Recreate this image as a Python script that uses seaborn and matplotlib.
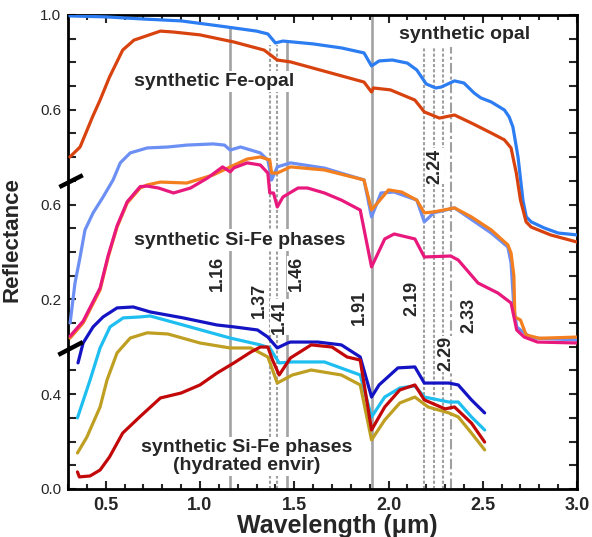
import matplotlib
matplotlib.use("Agg")
import matplotlib.pyplot as plt
from matplotlib.ticker import MultipleLocator
import numpy as np
import seaborn as sns

# ---- top panel: synthetic opal / synthetic Fe-opal ----
wl_opal = [0.31, 0.5, 0.7, 0.9, 1.1, 1.3, 1.36, 1.40, 1.44, 1.6, 1.75, 1.87, 1.91, 1.95, 2.02,
           2.10, 2.15, 2.2, 2.25, 2.28, 2.35, 2.40, 2.454, 2.49, 2.545, 2.615, 2.64, 2.66,
           2.687, 2.713, 2.731, 2.757, 2.827, 2.9, 3.0]
r_opal = [0.996, 0.992, 0.983, 0.975, 0.954, 0.932, 0.920, 0.882, 0.890, 0.878, 0.861, 0.840, 0.785,
          0.806, 0.810, 0.797, 0.768, 0.709, 0.692, 0.696, 0.722, 0.713, 0.671, 0.650, 0.633,
          0.599, 0.570, 0.527, 0.401, 0.219, 0.148, 0.127, 0.101, 0.080, 0.072]

wl_feopal = [0.31, 0.364, 0.43, 0.47, 0.52, 0.59, 0.65, 0.79, 0.86, 1.0, 1.18, 1.34, 1.41, 1.48,
             1.87, 1.91, 1.92, 2.01, 2.14, 2.19, 2.27, 2.35, 2.44, 2.545, 2.615, 2.65, 2.678,
             2.70, 2.73, 2.757, 2.86, 3.0]
r_feopal = [0.401, 0.443, 0.570, 0.641, 0.738, 0.852, 0.894, 0.932, 0.928, 0.916, 0.886, 0.852,
            0.810, 0.802, 0.717, 0.675, 0.692, 0.684, 0.641, 0.591, 0.565, 0.578, 0.544, 0.502,
            0.473, 0.439, 0.333, 0.219, 0.127, 0.105, 0.072, 0.042]

# ---- middle panel: synthetic Si-Fe phases ----
wl_sife1 = [0.311, 0.337, 0.364, 0.39, 0.433, 0.486, 0.539, 0.577, 0.63, 0.72, 0.83, 0.93, 1.07,
            1.13, 1.16, 1.215, 1.32, 1.36, 1.38, 1.41, 1.48, 1.66, 1.87, 1.91, 1.96, 2.03, 2.15,
            2.19, 2.24, 2.35, 2.42, 2.545, 2.633, 2.65, 2.665, 2.68, 2.70, 2.76, 3.0]
r_sife1 = [0.100, 0.269, 0.379, 0.493, 0.565, 0.632, 0.704, 0.776, 0.818, 0.839, 0.843, 0.851,
           0.856, 0.851, 0.830, 0.843, 0.818, 0.788, 0.704, 0.759, 0.776, 0.754, 0.704, 0.548,
           0.649, 0.653, 0.619, 0.527, 0.565, 0.586, 0.548, 0.480, 0.421, 0.354, 0.168, 0.084,
           0.071, 0.037, 0.029]

wl_sife2 = [0.311, 0.38, 0.47, 0.513, 0.56, 0.614, 0.683, 0.72, 0.79, 0.93, 1.07, 1.16, 1.25,
            1.32, 1.37, 1.38, 1.41, 1.48, 1.66, 1.87, 1.91, 2.0, 2.07, 2.15, 2.19, 2.24, 2.35,
            2.44, 2.545, 2.633, 2.65, 2.665, 2.67, 2.70, 2.73, 2.80, 3.0]
r_sife2 = [0.037, 0.100, 0.240, 0.379, 0.505, 0.607, 0.670, 0.683, 0.695, 0.691, 0.725, 0.759,
           0.792, 0.801, 0.788, 0.733, 0.733, 0.759, 0.746, 0.704, 0.577, 0.662, 0.653, 0.619,
           0.565, 0.569, 0.586, 0.548, 0.493, 0.430, 0.396, 0.300, 0.126, 0.113, 0.050, 0.036,
           0.041]

wl_sife3 = [0.311, 0.38, 0.47, 0.513, 0.56, 0.614, 0.683, 0.72, 0.78, 0.86, 0.95, 1.04, 1.12,
            1.16, 1.18, 1.25, 1.32, 1.36, 1.37, 1.39, 1.41, 1.44, 1.52, 1.57, 1.66, 1.75, 1.85,
            1.91, 1.98, 2.03, 2.14, 2.19, 2.33, 2.37, 2.475, 2.58, 2.65, 2.68, 2.72, 2.79, 3.0]
r_sife3 = [0.045, 0.108, 0.248, 0.385, 0.510, 0.612, 0.676, 0.678, 0.670, 0.649, 0.670, 0.712,
           0.759, 0.738, 0.755, 0.776, 0.767, 0.733, 0.649, 0.649, 0.590, 0.632, 0.670, 0.670,
           0.649, 0.619, 0.577, 0.337, 0.455, 0.476, 0.455, 0.379, 0.383, 0.366, 0.269, 0.227,
           0.185, 0.071, 0.041, 0.020, 0.016]

# ---- bottom panel: synthetic Si-Fe phases (hydrated envir) ----
wl_hyd1 = [0.353, 0.38, 0.433, 0.486, 0.56, 0.646, 0.736, 0.91, 1.09, 1.18, 1.305, 1.36, 1.41,
           1.465, 1.48, 1.625, 1.75, 1.85, 1.91, 1.95, 2.05, 2.14, 2.19, 2.32, 2.37, 2.44, 2.51]
r_hyd1 = [0.532, 0.616, 0.684, 0.726, 0.764, 0.768, 0.747, 0.722, 0.692, 0.684, 0.671, 0.641,
          0.595, 0.616, 0.620, 0.620, 0.608, 0.557, 0.388, 0.439, 0.511, 0.515, 0.447, 0.447,
          0.439, 0.376, 0.321]

wl_hyd2 = [0.35, 0.417, 0.47, 0.523, 0.593, 0.683, 0.736, 0.91, 1.16, 1.32, 1.37, 1.42, 1.49,
           1.66, 1.85, 1.91, 1.98, 2.06, 2.14, 2.19, 2.32, 2.37, 2.44, 2.51]
r_hyd2 = [0.300, 0.460, 0.595, 0.684, 0.722, 0.726, 0.730, 0.692, 0.637, 0.608, 0.595, 0.532,
          0.536, 0.536, 0.481, 0.304, 0.388, 0.426, 0.435, 0.388, 0.367, 0.367, 0.304, 0.249]

wl_hyd3 = [0.35, 0.40, 0.47, 0.507, 0.56, 0.63, 0.72, 0.83, 1.0, 1.16, 1.27, 1.36, 1.41, 1.49,
           1.59, 1.75, 1.85, 1.91, 1.98, 2.06, 2.14, 2.21, 2.32, 2.37, 2.44, 2.51]
r_hyd3 = [0.152, 0.219, 0.346, 0.460, 0.574, 0.637, 0.659, 0.654, 0.616, 0.595, 0.595, 0.557,
          0.447, 0.481, 0.502, 0.481, 0.439, 0.207, 0.291, 0.363, 0.388, 0.346, 0.321, 0.304,
          0.236, 0.165]

wl_hyd4 = [0.35, 0.36, 0.417, 0.47, 0.52, 0.59, 0.68, 0.79, 0.90, 1.0, 1.09, 1.18, 1.27, 1.32,
           1.36, 1.385, 1.42, 1.48, 1.59, 1.70, 1.78, 1.85, 1.91, 1.98, 2.06, 2.14, 2.19, 2.30,
           2.35, 2.44, 2.51]
r_hyd4 = [0.072, 0.051, 0.055, 0.080, 0.135, 0.236, 0.304, 0.384, 0.405, 0.439, 0.489, 0.532,
          0.578, 0.599, 0.599, 0.544, 0.481, 0.553, 0.608, 0.599, 0.557, 0.544, 0.249, 0.346,
          0.418, 0.439, 0.376, 0.338, 0.346, 0.278, 0.198]

# absorption bands (um) and line style
band_wl = [1.16, 1.37, 1.41, 1.46, 1.91, 2.19, 2.24, 2.29, 2.33]
band_kind = ["solid", "dot", "dot", "solid", "solid", "dot", "dot", "dot", "dashdot"]

# stacked (broken) axis: display = offset + 0.5 * reflectance
curves = [
    (wl_opal, r_opal, 0.5, "#2c7cf2"),
    (wl_feopal, r_feopal, 0.5, "#d8420f"),
    (wl_sife1, r_sife1, 0.3, "#6c8ff4"),
    (wl_sife2, r_sife2, 0.3, "#f47f1f"),
    (wl_sife3, r_sife3, 0.3, "#e8187c"),
    (wl_hyd1, r_hyd1, 0.0, "#1414c4"),
    (wl_hyd2, r_hyd2, 0.0, "#1ebff0"),
    (wl_hyd3, r_hyd3, 0.0, "#bf9f22"),
    (wl_hyd4, r_hyd4, 0.0, "#c20808"),
]

sns.set_style("ticks")
plt.rcParams["font.family"] = ["Liberation Sans", "DejaVu Sans"]

fig = plt.figure(figsize=(5.92, 5.37), dpi=100)
ax = fig.add_axes([0.1149, 0.0894, 0.8598, 0.8827])

# band lines
band_top = {1.16: 0.975, 1.37: 0.937, 1.41: 0.937, 1.46: 0.94, 1.91: 1.0}
for wl, kind in zip(band_wl, band_kind):
    top = band_top.get(wl, 0.933)
    if kind == "solid":
        ax.axvline(wl, 0, top, color="#a3a3a3", lw=1.9, zorder=1)
    elif kind == "dot":
        ax.axvline(wl, 0, top, color="#a0a0a0", lw=1.5, dashes=(1.5, 1.0), zorder=1)
    else:
        ax.axvline(wl, 0, top, color="#a0a0a0", lw=1.5, dashes=(5, 1.5, 1.5, 1.5), zorder=1)

for wl, r, off, col in curves:
    y = [off + 0.5 * v for v in r]
    sns.lineplot(x=wl, y=y, color=col, lw=2.3, ax=ax, estimator=None, sort=False, zorder=3)

# text
box = dict(facecolor="white", edgecolor="none", pad=1.5)
tkw = dict(fontsize=14, fontweight="bold", ha="center", va="center", zorder=4)
ax.text(1.077, 0.859, "synthetic Fe-opal", bbox=box, **tkw)
ax.text(2.406, 0.958, "synthetic opal", bbox=box, **tkw)
ax.text(1.21, 0.525, "synthetic Si-Fe phases", bbox=box, **tkw)
ax.text(1.247, 0.068, "synthetic Si-Fe phases\n(hydrated envir)", bbox=box,
        linespacing=1.05, **tkw)

label_pos = {1.16: (1.093, 0.454), 1.37: (1.316, 0.397), 1.41: (1.422, 0.363),
             1.46: (1.513, 0.454), 1.91: (1.843, 0.382), 2.19: (2.124, 0.401),
             2.24: (2.247, 0.681), 2.29: (2.305, 0.285), 2.33: (2.428, 0.367)}
nbox = dict(facecolor="white", edgecolor="none", pad=0.5)
for wl in band_wl:
    lx, ly = label_pos[wl]
    ax.text(lx, ly, f"{wl:.2f}", rotation=90, fontsize=13, fontweight="bold",
            ha="center", va="center", bbox=nbox, zorder=4)

# axes
ax.set_xlim(0.3, 3.0)
ax.set_ylim(0, 1)
ax.set_xticks([0.5, 1.0, 1.5, 2.0, 2.5, 3.0])
ax.set_xticklabels(["0.5", "1.0", "1.5", "2.0", "2.5", "3.0"], fontsize=13, fontweight="bold")
ax.xaxis.set_minor_locator(MultipleLocator(0.1))
yt = np.round(np.arange(0, 1.0001, 0.05), 2)
ylab = {0.0: "0.0", 0.2: "0.4", 0.4: "0.2", 0.6: "0.6", 0.8: "0.6", 1.0: "1.0"}
ax.set_yticks(yt)
ax.set_yticklabels([ylab.get(v, "") for v in yt], fontsize=11)
ax.tick_params(which="both", direction="in", top=True, right=True, width=1.5)
ax.tick_params(which="major", length=6)
ax.tick_params(which="minor", length=3.5)
ax.tick_params(axis="x", which="major", pad=6)
ax.tick_params(axis="y", which="major", pad=5)
for s in ax.spines.values():
    s.set_linewidth(2)
    s.set_color("black")

ax.set_xlabel("Wavelength (\u03bcm)", fontsize=18, fontweight="bold")
ax.xaxis.set_label_coords(0.53, -0.052)
ax.set_ylabel("Reflectance", fontsize=16, fontweight="bold")
ax.yaxis.set_label_coords(-0.09, 0.527)

# axis break marks
ax.plot([-0.017, 0.029], [0.637, 0.662], transform=ax.transAxes, clip_on=False,
        color="black", lw=3.2, solid_capstyle="butt", zorder=5)
ax.plot([-0.019, 0.029], [0.283, 0.310], transform=ax.transAxes, clip_on=False,
        color="black", lw=3.2, solid_capstyle="butt", zorder=5)

fig.savefig("out.png", dpi=100)
